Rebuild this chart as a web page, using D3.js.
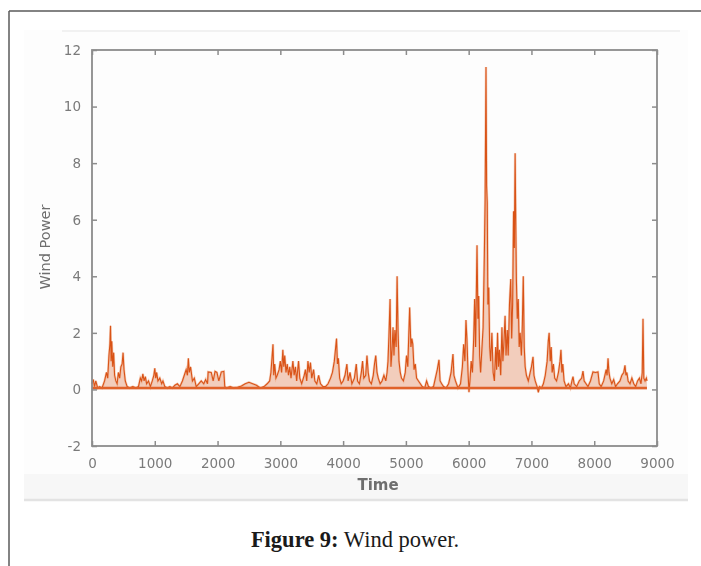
<!DOCTYPE html>
<html><head><meta charset="utf-8">
<script src="https://cdn.jsdelivr.net/npm/d3@7/dist/d3.min.js"></script>
<style>html,body{margin:0;padding:0;background:#fff;}svg{display:block;}</style>
</head><body>
<script>
// ---- data ----
const time = [0,20,40,60,90,120,160,200,230,250,270,285,295,305,315,330,345,360,380,400,420,440,460,480,495,510,530,560,600,650,700,740,770,790,810,830,850,870,900,930,960,985,1000,1015,1030,1050,
1080,1110,1130,1160,1200,1240,1280,1320,1360,1400,1440,1470,1500,1520,1535,1550,1570,1600,1630,1660,1700,1740,1780,1810,1840,1850,1900,1930,1960,1990,2020,2060,2100,2115,
2140,2200,2260,2320,2380,2440,2500,2560,2620,2680,2740,2790,2830,2850,2883,2895,2910,2930,
2950,2980,3000,3020,3040,3055,3070,3090,3110,3130,3150,3170,3200,3220,3240,3260,3290,3310,3340,3380,3400,3420,3440,3460,3480,3500,3530,3550,3580,3610,3640,3680,
3720,3760,3800,3830,3860,3895,3910,3925,3945,3970,4000,4030,4060,4080,4110,4140,4180,4210,4230,4260,4290,4310,4330,4360,4380,4400,4420,4450,4480,4500,4520,4540,4560,4590,4620,4650,4680,
4700,4715,4730,4748,4762,4780,4795,4810,4825,4845,4860,4875,4890,4910,4930,4960,4990,5010,5030,5060,5080,5095,5110,5130,5150,5170,5200,5230,5260,5300,5330,5360,
5400,5440,5470,5500,5527,5545,5570,5600,5640,5680,5720,5750,5765,5790,5830,5870,5900,5920,5940,5957,5972,5990,6005,6020,
6040,6060,6080,6095,6110,6133,6148,6160,6175,6190,6210,6230,6250,6262,6276,6286,6296,6306,6320,6335,6350,6370,6390,6410,6430,6445,6460,6475,6490,6510,6530,6545,6560,6580,6595,6615,6630,6650,6670,6685,6700,6715,6728,6740,6750,6760,6775,6790,6805,6820,6840,6855,6870,6885,6900,
6920,6950,6980,7000,7025,7040,7060,7090,7110,7130,7160,7190,7220,7250,7268,7282,7300,7315,7330,7350,7370,7400,7430,7455,7470,7485,7500,7520,
7550,7590,7620,7645,7662,7680,7720,7760,7800,7821,7840,7870,7900,7940,7980,8020,8060,8080,8110,8150,8190,8205,8220,8235,8250,8280,8310,8340,8370,8410,8440,8470,8490,8505,8520,8540,8570,8600,8630,8660,8690,8720,8745,8765,8777,8790,8810,8830,8840];
const power = [0.2,0.35,0.1,0.3,0.05,0.1,0.05,0.3,0.6,0.4,1.2,1.6,2.25,1.0,1.7,0.8,1.3,0.5,0.3,0.2,0.6,0.4,0.8,0.9,1.3,0.7,0.3,0.1,0.05,0.1,0.05,0.1,0.4,0.3,0.55,0.3,0.45,0.2,0.3,0.1,0.3,0.5,0.75,0.4,0.6,0.3,
0.4,0.2,0.3,0.1,0.05,0.1,0.05,0.15,0.2,0.1,0.3,0.5,0.7,0.5,1.1,0.6,0.8,0.3,0.4,0.1,0.2,0.3,0.2,0.35,0.2,0.62,0.6,0.3,0.64,0.6,0.3,0.62,0.64,0.1,
0.05,0.1,0.05,0.08,0.12,0.2,0.25,0.2,0.15,0.05,0.1,0.2,0.3,0.6,1.6,0.5,0.9,0.4,
0.5,0.7,1.0,0.6,1.4,0.8,1.2,0.6,0.9,0.5,0.8,0.4,1.0,0.5,0.8,0.3,1.0,0.4,0.2,0.5,0.7,0.3,1.0,0.6,0.95,0.4,0.7,0.3,0.2,0.5,0.2,0.1,
0.1,0.2,0.4,0.6,1.0,1.8,0.9,1.1,0.4,0.2,0.3,0.5,0.9,0.3,0.6,0.2,0.4,0.9,0.3,0.2,0.6,1.0,0.4,0.5,1.2,0.6,0.3,0.2,0.5,0.9,1.2,0.6,0.4,0.2,0.3,0.5,0.3,
0.6,1.0,1.9,3.2,0.8,1.4,2.2,1.2,2.1,1.5,4.0,2.1,1.0,0.6,0.4,0.3,0.6,1.2,0.8,2.9,1.5,1.8,1.6,0.7,0.9,0.4,0.3,0.2,0.1,0.05,0.3,0.1,
0.05,0.1,0.4,0.7,1.05,0.3,0.2,0.1,0.05,0.2,0.6,1.25,0.5,0.3,0.05,0.2,0.8,1.6,1.0,2.45,1.8,0.6,-0.1,0.3,
1.0,0.6,1.8,3.2,1.5,5.1,2.5,3.3,1.2,0.6,1.4,2.2,4.8,6.7,11.4,7.2,6.6,3.0,3.6,1.5,1.0,2.0,0.6,0.3,1.5,0.7,2.0,0.8,1.4,0.5,2.2,1.0,1.6,2.6,1.2,2.1,1.2,3.0,3.9,1.8,3.0,6.3,5.0,8.35,6.0,3.9,2.5,3.2,1.5,2.0,1.2,2.3,4.0,1.5,0.8,
0.5,0.3,0.6,0.8,1.15,0.5,0.3,0.1,-0.1,0.1,0.05,0.2,0.5,1.0,1.7,2.0,1.0,1.5,0.6,0.9,0.4,0.3,0.6,1.0,1.4,0.6,0.9,0.3,
0.1,0.2,0.05,0.3,0.45,0.2,0.1,0.3,0.4,0.65,0.3,0.2,0.1,0.3,0.62,0.6,0.62,0.2,0.1,0.3,0.7,0.5,1.1,0.6,0.4,0.2,0.35,0.1,0.2,0.3,0.5,0.6,0.85,0.5,0.6,0.3,0.2,0.4,0.2,0.1,0.3,0.4,0.2,0.6,2.5,0.4,0.3,0.4,0.3];
const xTicks = [0,1000,2000,3000,4000,5000,6000,7000,8000,9000];
const yTicks = [-2,0,2,4,6,8,10,12];
const xLabel = "Time";
const yLabel = "Wind Power";
const captionBold = "Figure 9:";
const captionText = " Wind power.";

const W = 701, H = 566;
const svg = d3.select("body").append("svg").attr("width", W).attr("height", H);
const defs = svg.append("defs");
defs.append("filter").attr("id","soft").attr("x","-5%").attr("y","-5%").attr("width","110%").attr("height","110%")
  .append("feGaussianBlur").attr("stdDeviation",0.6);

// page frame (left and top rules)
svg.append("line").attr("x1",9).attr("x2",9).attr("y1",11).attr("y2",H).attr("stroke","#5a5a5a").attr("stroke-width",1.5);
svg.append("line").attr("x1",9).attr("x2",W).attr("y1",11).attr("y2",11).attr("stroke","#5a5a5a").attr("stroke-width",1.5);

// embedded figure background
const fig = svg.append("g").attr("filter","url(#soft)");
fig.append("rect").attr("x",24).attr("y",30).attr("width",664).attr("height",470).attr("fill","#fdfdfd");
fig.append("rect").attr("x",24).attr("y",474).attr("width",664).attr("height",26).attr("fill","#f7f7f7");
fig.append("line").attr("x1",24).attr("x2",688).attr("y1",500).attr("y2",500).attr("stroke","#e3e3e3").attr("stroke-width",2.5);
fig.append("line").attr("x1",62).attr("x2",680).attr("y1",31).attr("y2",31).attr("stroke","#f1f1f1").attr("stroke-width",2);

const L = 92, R = 657, T = 50, B = 446;
const x = d3.scaleLinear().domain([0,9000]).range([L,R]);
const y = d3.scaleLinear().domain([-2,12]).range([B,T]);

// data: dense hourly trace rendered as faint filled band + line
const area = d3.area().x((d,i)=>x(time[i])).y0(y(0)).y1((d,i)=>y(power[i]));
const line = d3.line().x((d,i)=>x(time[i])).y((d,i)=>y(power[i]));
fig.append("path").datum(power).attr("d",area).attr("fill","#db5f28").attr("opacity",0.3);
fig.append("path").datum(power).attr("d",line).attr("fill","none")
  .attr("stroke","#f0a47a").attr("stroke-width",2.4).attr("stroke-linejoin","miter").attr("opacity",0.5);
fig.append("path").datum(power).attr("d",line).attr("fill","none")
  .attr("stroke","#d95319").attr("stroke-width",1.1).attr("stroke-linejoin","miter");
fig.append("line").attr("x1",x(time[0])).attr("x2",x(time[time.length-1])).attr("y1",y(0.05)).attr("y2",y(0.05))
  .attr("stroke","#e0622a").attr("stroke-width",2.5);

// axes box with inward ticks
const axCol = "#8c8c8c";
const tickFont = "DejaVu Sans, sans-serif";
fig.append("rect").attr("x",L).attr("y",T).attr("width",R-L).attr("height",B-T)
  .attr("fill","none").attr("stroke",axCol).attr("stroke-width",1.8);

const fmt = d => String(d);
const xb = fig.append("g").attr("transform",`translate(0,${B})`)
  .call(d3.axisBottom(x).tickValues(xTicks).tickSize(-5).tickPadding(12).tickFormat(fmt));
const xt = fig.append("g").attr("transform",`translate(0,${T})`)
  .call(d3.axisTop(x).tickValues(xTicks).tickSize(-5).tickFormat(""));
const yl = fig.append("g").attr("transform",`translate(${L},0)`)
  .call(d3.axisLeft(y).tickValues(yTicks).tickSize(-5).tickPadding(11).tickFormat(fmt));
const yr = fig.append("g").attr("transform",`translate(${R},0)`)
  .call(d3.axisRight(y).tickValues(yTicks).tickSize(-5).tickFormat(""));
[xb,xt,yl,yr].forEach(g=>{
  g.select(".domain").remove();
  g.selectAll(".tick line").attr("stroke",axCol).attr("stroke-width",1.5);
  g.selectAll(".tick text").attr("fill","#7a7a7a").attr("font-family",tickFont).attr("font-size",13.5);
});

fig.append("text").attr("x",378).attr("y",490).attr("text-anchor","middle")
  .attr("font-family",tickFont).attr("font-size",15).attr("font-weight","bold").attr("fill","#6e6e6e").text(xLabel);
fig.append("text").attr("transform",`translate(50,247) rotate(-90)`).attr("text-anchor","middle")
  .attr("font-family",tickFont).attr("font-size",14.5).attr("fill","#6e6e6e").text(yLabel);

// caption
const cap = svg.append("text").attr("x",355).attr("y",547).attr("text-anchor","middle")
  .attr("font-family","Liberation Serif, serif").attr("font-size",22.5).attr("fill","#1a1a1a");
cap.append("tspan").attr("font-weight","bold").text(captionBold);
cap.append("tspan").text(captionText);
</script>
</body></html>
